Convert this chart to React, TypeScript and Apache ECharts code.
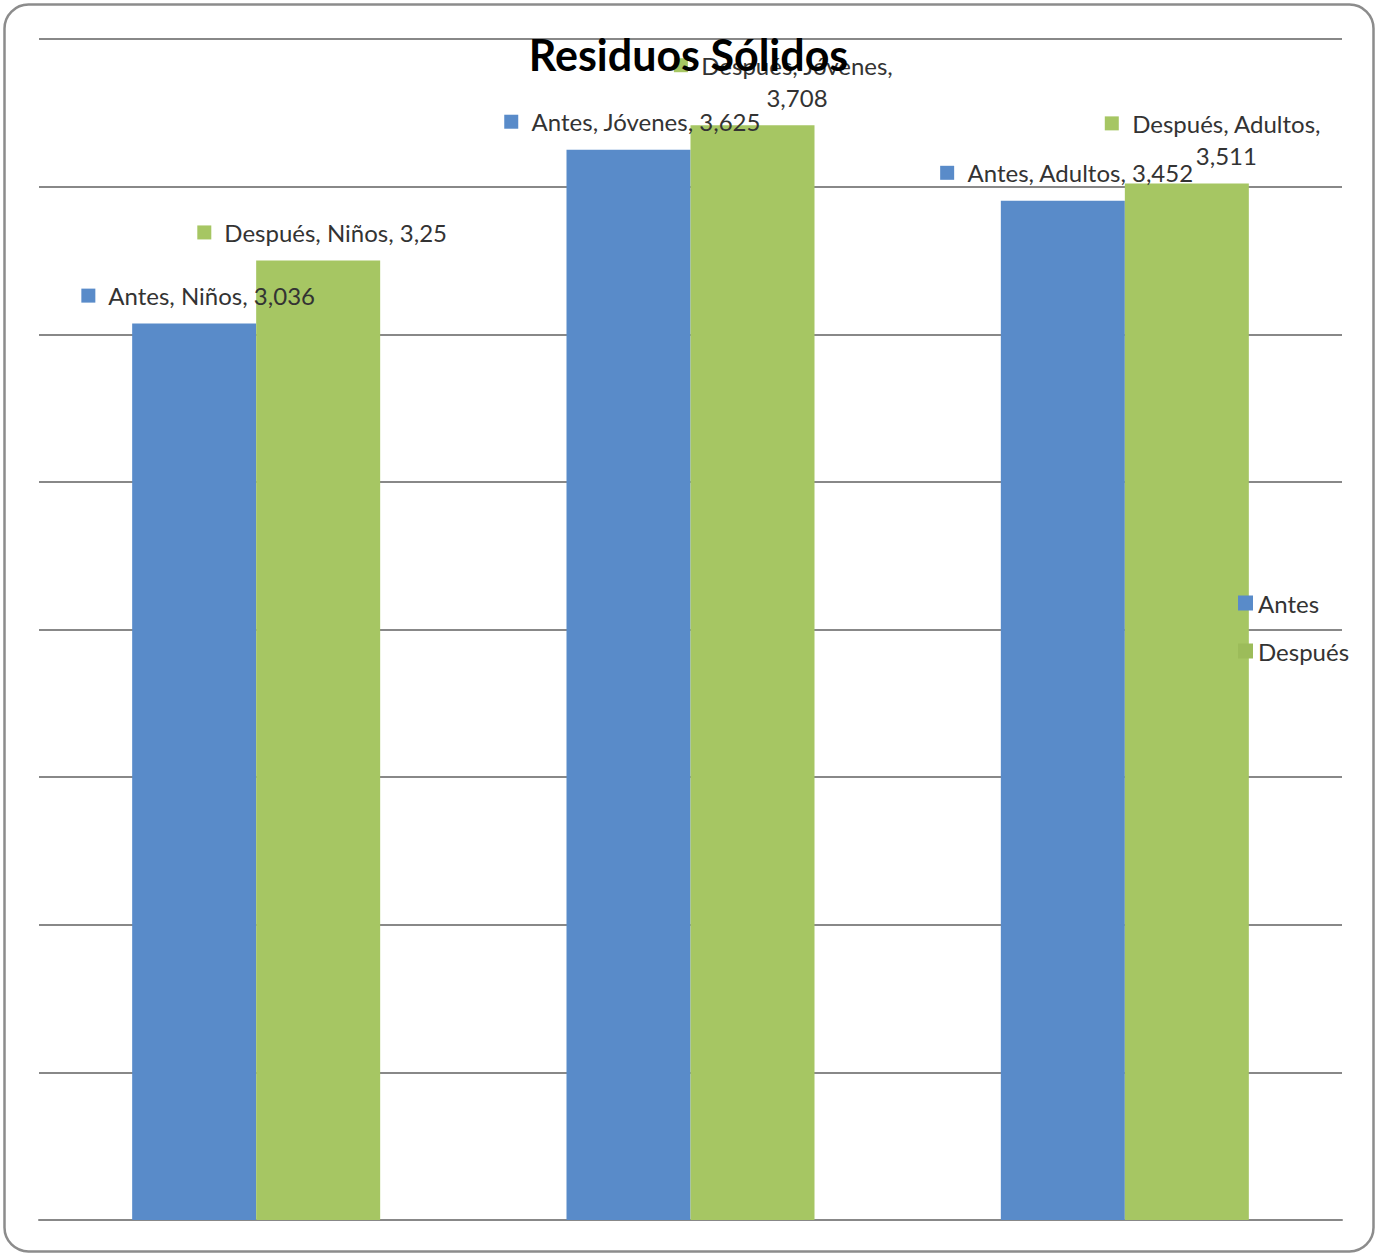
import React, { useEffect, useRef } from "react";
import * as echarts from "echarts";

// Waste measured per age group, before and after
const categories = ["Niños", "Jóvenes", "Adultos"];
const antes = [3.036, 3.625, 3.452];
const despues = [3.25, 3.708, 3.511];
const seriesNames = ["Antes", "Después"];

// Which point labels wrap onto a second line (series index, category index)
const wrappedLabels: Array<[number, number]> = [
  [1, 1],
  [1, 2],
];

const BLUE = "#598bc9";
const GREEN = "#a6c663";
const GRID = "#888888";
const TEXT = "#333333";
const FONT = "Lato, 'Open Sans', sans-serif";

// Horizontal nudge for each point label
const labelShift = [
  [4, 4, 4],
  [4, 31, 26],
];

const fmt = (v: number) => String(v).replace(".", ",");

function buildSeries(name: string, values: number[], color: string, si: number) {
  return {
    name,
    type: "bar",
    barWidth: 124,
    barGap: "0%",
    itemStyle: { color },
    data: values.map((v, ci) => {
      const wrapped = wrappedLabels.some(([s, c]) => s === si && c === ci);
      const head = `${name}, ${categories[ci]},`;
      const formatter = wrapped
        ? `{sq|}{gap|}{t|${head}}\n{pad|}{t|${fmt(v)}}`
        : `{sq|}{gap|}{t|${head} ${fmt(v)}}`;
      return {
        value: v,
        label: {
          show: true,
          position: "top",
          distance: 12,
          offset: [labelShift[si][ci], 0],
          formatter,
          rich: {
            sq: { width: 14, height: 14, backgroundColor: color },
            gap: { width: 13 },
            pad: { width: 27 },
            t: { fontSize: 24, color: TEXT, fontFamily: FONT, lineHeight: 32 },
          },
        },
      };
    }),
  };
}

export default function App() {
  const ref = useRef<HTMLDivElement>(null);

  useEffect(() => {
    if (!ref.current) return;
    const chart = echarts.init(ref.current, null, { renderer: "svg" });
    chart.setOption({
      animation: false,
      backgroundColor: "#ffffff",
      title: {
        text: "Residuos Sólidos",
        left: "center",
        top: 28,
        textStyle: { fontSize: 43, fontWeight: "bold", color: "#000", fontFamily: FONT },
      },
      legend: {
        data: [
          { name: seriesNames[0] },
          { name: seriesNames[1], itemStyle: { color: "#9cbc5a" } },
        ],
        orient: "vertical",
        left: 1233,
        top: 586,
        itemWidth: 15,
        itemHeight: 15,
        itemGap: 24,
        icon: "rect",
        textStyle: { fontSize: 24, color: TEXT, fontFamily: FONT },
      },
      grid: { left: 39, right: 35, top: 39, bottom: 34, containLabel: false },
      xAxis: {
        type: "category",
        data: categories,
        axisLine: { show: true, lineStyle: { color: GRID, width: 2 } },
        axisTick: { show: false },
        axisLabel: { show: false },
      },
      yAxis: {
        type: "value",
        min: 0,
        max: 4,
        interval: 0.5,
        axisLine: { show: false },
        axisTick: { show: false },
        axisLabel: { show: false },
        splitLine: { lineStyle: { color: GRID, width: 2 } },
      },
      series: [
        buildSeries(seriesNames[0], antes, BLUE, 0),
        buildSeries(seriesNames[1], despues, GREEN, 1),
      ],
      graphic: [
        {
          type: "rect",
          shape: { x: 4.5, y: 4.5, width: 1369, height: 1247, r: 24 },
          style: { fill: "none", stroke: "#8c8c8c", lineWidth: 2.5 },
          silent: true,
          z: 10,
        },
      ],
    });
    return () => chart.dispose();
  }, []);

  return (
    <div
      ref={ref}
      style={{ position: "absolute", left: 0, top: 0, width: 1377, height: 1254 }}
    />
  );
}
